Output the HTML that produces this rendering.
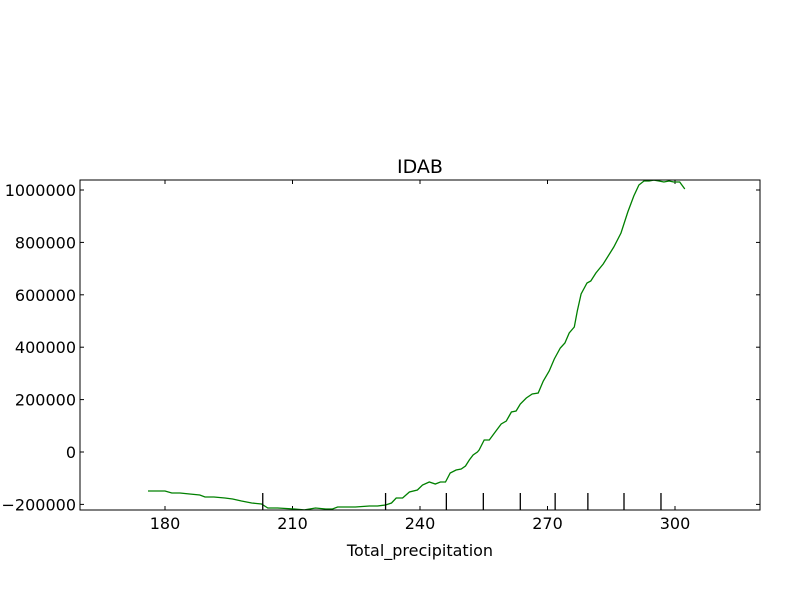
<!DOCTYPE html>
<html><head><meta charset="utf-8"><style>
html,body{margin:0;padding:0;background:#fff;}
svg{display:block;font-family:"DejaVu Sans","Liberation Sans",sans-serif;}
</style></head><body>
<svg id="chart" width="800" height="600">
  <rect x="0" y="0" width="800" height="600" fill="#fff"/>
  <text x="420" y="173" font-size="19" text-anchor="middle">IDAB</text>
  <g id="ticks"></g>
  <g id="series"></g>
  <g id="rug"></g>
  <rect x="80" y="180" width="680" height="330" fill="none" stroke="#000" stroke-width="1"/>
  <text x="420" y="556" font-size="16" text-anchor="middle">Total_precipitation</text>
</svg>
<script>
const xTicks = [180, 210, 240, 270, 300];
const yTicks = [-200000, 0, 200000, 400000, 600000, 800000, 1000000];
const rugValues = [203.0, 231.9, 246.2, 254.9, 263.6, 271.8, 279.5, 288.0, 296.7];
const xValues = [176.0,180,181.6,183.5,185.8,188.2,189.4,191.5,194.1,195.9,198.0,200.4,202.7,204.2,206.5,210.5,212.8,215.4,217.8,219.4,220.6,224.8,228.1,230.0,231.9,233.3,234.4,235.9,237.5,239.4,240.6,242.2,243.6,244.8,246.0,247.1,248.5,249.7,250.7,251.6,252.5,253.5,253.9,255.1,256.3,257.7,259.1,260.3,261.5,262.6,263.6,265.0,266.4,267.8,269.0,270.4,271.6,273.0,274.1,275.1,276.3,277.0,277.9,279.3,280.2,281.4,283.1,285.6,287.3,288.9,290.3,291.5,292.7,293.9,295.0,296.2,297.4,298.6,299.7,301.1,302.3];
const yValues = [-148900,-148900,-156500,-156500,-160300,-164100,-171800,-171800,-175600,-179400,-187000,-194700,-198500,-213800,-213800,-217600,-221000,-213800,-217600,-217600,-209900,-209900,-206100,-206100,-202300,-194700,-175600,-175600,-152700,-145000,-125900,-114500,-122100,-114500,-114500,-80200,-68700,-64900,-53400,-30500,-11500,0,7600,45800,45800,76300,106900,118300,152700,156500,183200,206100,221400,225200,271000,309200,355000,397000,416000,454200,477100,538200,603100,645100,652700,683300,717600,782500,835900,916100,977200,1019100,1034400,1034400,1038000,1034400,1030600,1034400,1030600,1030600,1003900];

const X0=80,X1=760,Y0=510,Y1=180;
const xMin=160,xMax=320,yMin=-221400,yMax=1038200;
function sx(v){return X0+(v-xMin)/(xMax-xMin)*(X1-X0);}
function sy(v){return Y0-(v-yMin)/(yMax-yMin)*(Y0-Y1);}
const NS="http://www.w3.org/2000/svg";
function mk(t,a){const e=document.createElementNS(NS,t);for(const k in a)e.setAttribute(k,a[k]);return e;}

const tg=document.getElementById('ticks');
xTicks.forEach(v=>{
  const x=sx(v);
  const l1=mk('line',{x1:x,x2:x,y1:Y0,y2:Y0-4,stroke:'#000'});
  
  
  tg.appendChild(l1);
  const l2=mk('line',{x1:x,x2:x,y1:Y1,y2:Y1+4,stroke:'#000'});
  
  
  tg.appendChild(l2);
  const t=mk('text',{x:x,y:Y0+19,'font-size':16,'text-anchor':'middle'});
  t.textContent=v;
  
  
  tg.appendChild(t);
});
yTicks.forEach(v=>{
  const y=sy(v);
  const l1=mk('line',{x1:X0,x2:X0+4,y1:y,y2:y,stroke:'#000'});
  
  
  tg.appendChild(l1);
  const l2=mk('line',{x1:X1,x2:X1-4,y1:y,y2:y,stroke:'#000'});
  
  
  tg.appendChild(l2);
  const t=mk('text',{x:X0-4,y:y+6,'font-size':16,'text-anchor':'end'});
  t.textContent=v<0?'\u2212'+(-v):v;
  
  
  tg.appendChild(t);
});

const rg=document.getElementById('rug');
rugValues.forEach(v=>{
  const x=sx(v);
  const l=mk('line',{x1:x,x2:x,y1:Y0,y2:Y0-17,stroke:'#000','stroke-width':1.3});
  
  
  rg.appendChild(l);
});

const pts=xValues.map((v,i)=>sx(v).toFixed(1)+','+sy(Math.max(yValues[i],yMin)).toFixed(1)).join(' ');
const pl=mk('polyline',{points:pts,fill:'none',stroke:'#008000','stroke-width':1.3});


document.getElementById('series').appendChild(pl);
</script>
</body></html>
